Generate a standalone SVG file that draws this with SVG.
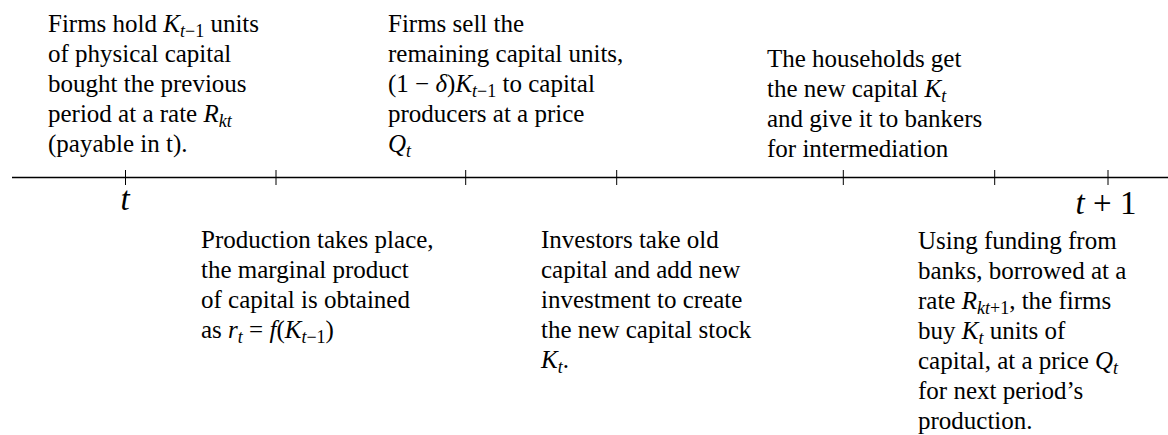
<svg xmlns="http://www.w3.org/2000/svg" width="1168" height="435" viewBox="0 0 1168 435">
<style>
.tx{font-family:"Liberation Serif","Times New Roman",serif;font-size:25px;fill:#000}
.m{font-style:italic}
.lb{font-family:"Liberation Serif","Times New Roman",serif;font-size:33px;fill:#000}
.axis{stroke:#000;stroke-width:1.5;fill:none}
.tick{stroke:#000;stroke-width:1;fill:none}
</style>
<rect width="1168" height="435" fill="#fff"/>
<g id="connectors">
<line class="axis" x1="12" y1="177.5" x2="1168" y2="177.5"/>
<line class="tick" x1="125.5" y1="170" x2="125.5" y2="185"/>
<line class="tick" x1="276" y1="170" x2="276" y2="185"/>
<line class="tick" x1="465.7" y1="170" x2="465.7" y2="185"/>
<line class="tick" x1="616.7" y1="170" x2="616.7" y2="185"/>
<line class="tick" x1="843.3" y1="170" x2="843.3" y2="185"/>
<line class="tick" x1="994.7" y1="170" x2="994.7" y2="185"/>
<line class="tick" x1="1108" y1="170" x2="1108" y2="185"/>
</g>
<g id="label-t">
<text class="lb m" x="125" y="210" text-anchor="middle">t</text>
</g>
<g id="label-t1">
<text class="lb" x="1106" y="214" text-anchor="middle"><tspan class="m">t</tspan> + 1</text>
</g>
<g id="node-firms-hold">
<text class="tx" x="48" y="32">Firms hold <tspan class="m">K</tspan><tspan class="m" font-size="18" dy="5">t</tspan><tspan font-size="18">−1</tspan><tspan dy="-5"> units</tspan></text>
<text class="tx" x="48" y="62">of physical capital</text>
<text class="tx" x="48" y="92">bought the previous</text>
<text class="tx" x="48" y="122">period at a rate <tspan class="m">R</tspan><tspan class="m" font-size="18" dy="5">kt</tspan></text>
<text class="tx" x="48" y="152">(payable in t).</text>
</g>
<g id="node-firms-sell">
<text class="tx" x="388" y="32">Firms sell the</text>
<text class="tx" x="388" y="62">remaining capital units,</text>
<text class="tx" x="388" y="92">(1 − <tspan class="m">δ</tspan>)<tspan class="m">K</tspan><tspan class="m" font-size="18" dy="5">t</tspan><tspan font-size="18">−1</tspan><tspan dy="-5"> to capital</tspan></text>
<text class="tx" x="388" y="122">producers at a price</text>
<text class="tx" x="388" y="152"><tspan class="m">Q</tspan><tspan class="m" font-size="18" dy="5">t</tspan></text>
</g>
<g id="node-households">
<text class="tx" x="767" y="67">The households get</text>
<text class="tx" x="767" y="97">the new capital <tspan class="m">K</tspan><tspan class="m" font-size="18" dy="5">t</tspan></text>
<text class="tx" x="767" y="127">and give it to bankers</text>
<text class="tx" x="767" y="157">for intermediation</text>
</g>
<g id="node-production">
<text class="tx" x="201" y="248">Production takes place,</text>
<text class="tx" x="201" y="278">the marginal product</text>
<text class="tx" x="201" y="308">of capital is obtained</text>
<text class="tx" x="201" y="338">as <tspan class="m">r</tspan><tspan class="m" font-size="18" dy="5">t</tspan><tspan dy="-5"> = </tspan><tspan class="m">f</tspan>(<tspan class="m">K</tspan><tspan class="m" font-size="18" dy="5">t</tspan><tspan font-size="18">−1</tspan><tspan dy="-5">)</tspan></text>
</g>
<g id="node-investors">
<text class="tx" x="541" y="248">Investors take old</text>
<text class="tx" x="541" y="278">capital and add new</text>
<text class="tx" x="541" y="308">investment to create</text>
<text class="tx" x="541" y="338">the new capital stock</text>
<text class="tx" x="541" y="368"><tspan class="m">K</tspan><tspan class="m" font-size="18" dy="5">t</tspan><tspan dy="-5">.</tspan></text>
</g>
<g id="node-funding">
<text class="tx" x="918" y="249">Using funding from</text>
<text class="tx" x="918" y="279">banks, borrowed at a</text>
<text class="tx" x="918" y="309">rate <tspan class="m">R</tspan><tspan class="m" font-size="18" dy="5">kt</tspan><tspan font-size="18">+1</tspan><tspan dy="-5">, the firms</tspan></text>
<text class="tx" x="918" y="339">buy <tspan class="m">K</tspan><tspan class="m" font-size="18" dy="5">t</tspan><tspan dy="-5"> units of</tspan></text>
<text class="tx" x="918" y="369">capital, at a price <tspan class="m">Q</tspan><tspan class="m" font-size="18" dy="5">t</tspan></text>
<text class="tx" x="918" y="399">for next period’s</text>
<text class="tx" x="918" y="429">production.</text>
</g>
</svg>
